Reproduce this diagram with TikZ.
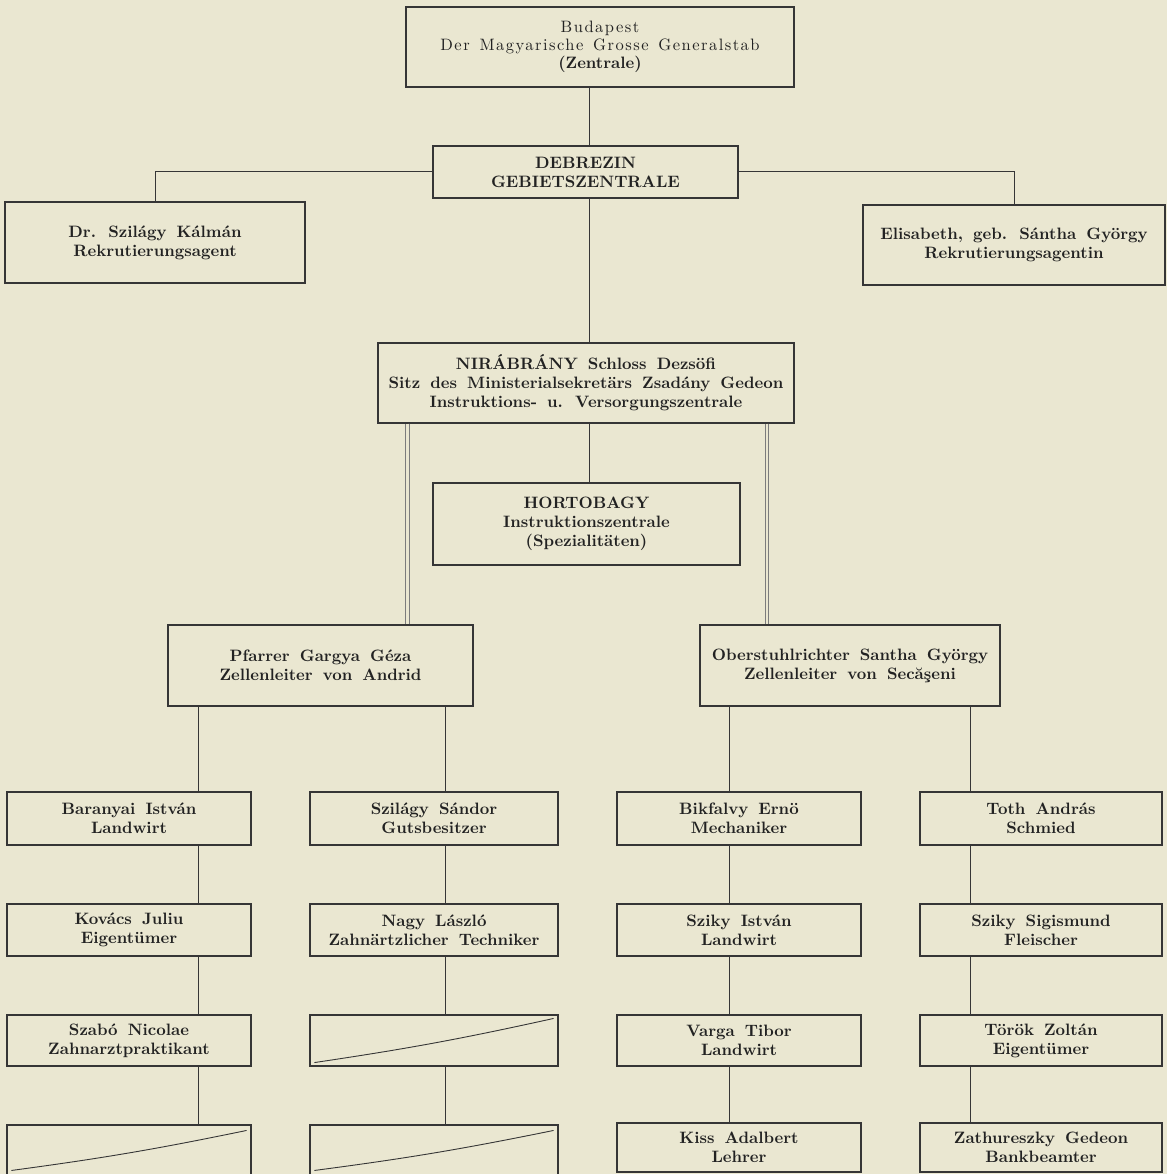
\documentclass[tikz,border=0pt]{standalone}
\usepackage{fontspec}
\newfontfamily\bx{lmroman10-bold.otf}[WordSpace=1.6]
\newfontfamily\rgsp{lmroman10-regular.otf}[LetterSpace=9,WordSpace=1.4]
\usetikzlibrary{calc}
\definecolor{paper}{HTML}{EAE7D1}
\definecolor{ink}{HTML}{222222}
\definecolor{rule}{HTML}{363636}
\begin{document}
\begin{tikzpicture}[x=1pt,y=-1pt,
  box/.style={draw=rule,line width=1.1pt,inner sep=0pt,align=center,text=ink,
    font=\bx\fontsize{16.5}{19}\selectfont},
  wire/.style={draw=rule,line width=1pt},
  dbl/.style={draw=rule!65,line width=0.75pt,double=paper,double distance=2.6pt},
  slash/.style={draw=rule,line width=0.9pt}]
\fill[paper] (0,0) rectangle (1167,1174);
\useasboundingbox (0,0) rectangle (1167,1174);

% top levels
\node[box,minimum width=388pt,minimum height=80pt,font=\bx\fontsize{16.5}{18}\selectfont] (bud) at (600,47)
  {{\rgsp Budapest}\\{\rgsp Der Magyarische Grosse Generalstab}\\(Zentrale)};
\node[box,minimum width=305pt,minimum height=52pt] (deb) at (585.5,172)
  {DEBREZIN\\GEBIETSZENTRALE};
\node[box,minimum width=300pt,minimum height=81pt] (drs) at (155,242.5)
  {Dr. Szilágy Kálmán\\Rekrutierungsagent};
\node[box,minimum width=302pt,minimum height=80pt] (eli) at (1014,245)
  {Elisabeth, geb. Sántha György\\Rekrutierungsagentin};
\node[box,minimum width=416pt,minimum height=80pt] (nir) at (586,383)
  {NIRÁBRÁNY Schloss Dezsöfi\\Sitz des Ministerialsekretärs Zsadány Gedeon\\Instruktions- u. Versorgungszentrale};
\node[box,minimum width=307pt,minimum height=82pt] (hor) at (586.5,524)
  {HORTOBAGY\\Instruktionszentrale\\(Spezialitäten)};
\node[box,minimum width=305pt,minimum height=81pt] (pfa) at (320.5,665.5)
  {Pfarrer Gargya Géza\\Zellenleiter von Andrid};
\node[box,minimum width=300pt,minimum height=81pt] (obs) at (850,665.5)
  {Oberstuhlrichter Santha György\\Zellenleiter von Secăşeni};

% column 1
\node[box,minimum width=244pt,minimum height=53pt] (a1) at (129,818.5) {Baranyai István\\Landwirt};
\node[box,minimum width=244pt,minimum height=52pt] (a2) at (129,930) {Kovács Juliu\\Eigentümer};
\node[box,minimum width=244pt,minimum height=51pt] (a3) at (129,1040.5) {Szabó Nicolae\\Zahnarztpraktikant};
\node[box,minimum width=244pt,minimum height=60pt] (a4) at (129,1155) {};
% column 2
\node[box,minimum width=248pt,minimum height=53pt] (b1) at (434,818.5) {Szilágy Sándor\\Gutsbesitzer};
\node[box,minimum width=248pt,minimum height=52pt] (b2) at (434,930) {Nagy László\\Zahnärtzlicher Techniker};
\node[box,minimum width=248pt,minimum height=51pt] (b3) at (434,1040.5) {};
\node[box,minimum width=248pt,minimum height=60pt] (b4) at (434,1155) {};
% column 3
\node[box,minimum width=244pt,minimum height=53pt] (c1) at (739,818.5) {Bikfalvy Ernö\\Mechaniker};
\node[box,minimum width=244pt,minimum height=52pt] (c2) at (739,930) {Sziky István\\Landwirt};
\node[box,minimum width=244pt,minimum height=51pt] (c3) at (739,1040.5) {Varga Tibor\\Landwirt};
\node[box,minimum width=244pt,minimum height=49pt] (c4) at (739,1147.5) {Kiss Adalbert\\Lehrer};
% column 4
\node[box,minimum width=242pt,minimum height=53pt] (d1) at (1041,818.5) {Toth András\\Schmied};
\node[box,minimum width=242pt,minimum height=52pt] (d2) at (1041,930) {Sziky Sigismund\\Fleischer};
\node[box,minimum width=242pt,minimum height=51pt] (d3) at (1041,1040.5) {Török Zoltán\\Eigentümer};
\node[box,minimum width=242pt,minimum height=49pt] (d4) at (1041,1147.5) {Zathureszky Gedeon\\Bankbeamter};

% slashes in empty boxes
\draw[slash] ([shift={(5,-4)}]b3.south west) to[bend right=2] ([shift={(-5,4)}]b3.north east);
\draw[slash] ([shift={(5,46)}]a4.north west) to[bend right=2] ([shift={(-5,6)}]a4.north east);
\draw[slash] ([shift={(5,46)}]b4.north west) to[bend right=2] ([shift={(-5,6)}]b4.north east);

% connectors
\coordinate (spine) at (589,0);
\coordinate (dL) at (407.5,0);
\coordinate (dR) at (767,0);
\coordinate (ka) at (198,0);
\coordinate (kb) at (445,0);
\coordinate (kc) at (729,0);
\coordinate (kd) at (970,0);
\draw[wire] (bud.south -| spine) -- (deb.north -| spine);
\draw[wire] (deb.south -| spine) -- (nir.north -| spine);
\draw[wire] (nir.south -| spine) -- (hor.north -| spine);
\draw[wire] (deb.west) -| (drs.north);
\draw[wire] (deb.east) -| (eli.north);
\draw[dbl] (nir.south -| dL) -- (pfa.north -| dL);
\draw[dbl] (nir.south -| dR) -- (obs.north -| dR);
\draw[wire] (pfa.south -| ka) -- (a1.north -| ka);
\draw[wire] (pfa.south -| kb) -- (b1.north -| kb);
\draw[wire] (obs.south -| kc) -- (c1.north -| kc);
\draw[wire] (obs.south -| kd) -- (d1.north -| kd);
\foreach \c/\k in {a/ka,b/kb,c/kc,d/kd}{
  \draw[wire] (\c1.south -| \k) -- (\c2.north -| \k);
  \draw[wire] (\c2.south -| \k) -- (\c3.north -| \k);
  \draw[wire] (\c3.south -| \k) -- (\c4.north -| \k);
}
\end{tikzpicture}
\end{document}
